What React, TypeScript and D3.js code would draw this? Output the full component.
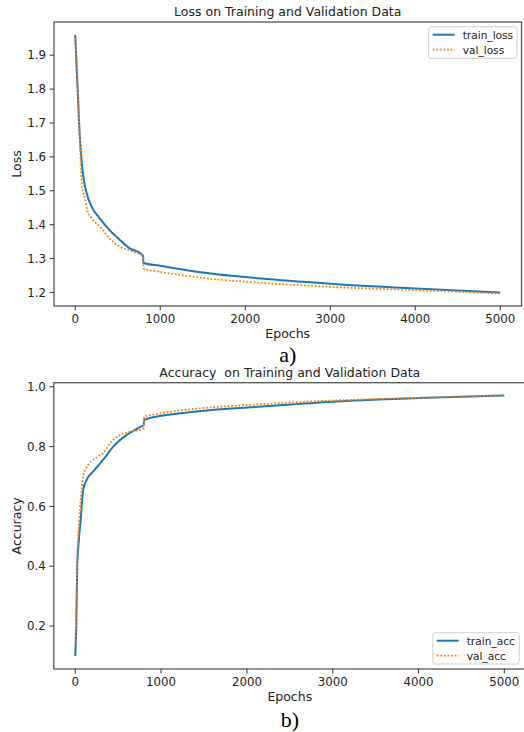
import React from "react";
import * as d3 from "d3";

// ---------- data ----------
const lossTrainEpochs = [0, 10, 20, 30, 45, 64, 95, 134, 192, 290, 407, 525, 642, 779, 798, 802, 994, 1500, 2187, 3000, 4000, 5000];
const lossTrainValues = [1.96, 1.9, 1.84, 1.79, 1.7, 1.621, 1.542, 1.493, 1.453, 1.418, 1.383, 1.355, 1.33, 1.313, 1.308, 1.287, 1.279, 1.259, 1.241, 1.226, 1.212, 1.2];
const lossValEpochs = [0, 14, 32, 47, 61, 78, 100, 118, 140, 192, 290, 407, 525, 662, 792, 798, 802, 1000, 1500, 2187, 3000, 4000, 5000];
const lossValValues = [1.95, 1.9, 1.8, 1.7, 1.6, 1.52, 1.49, 1.473, 1.443, 1.419, 1.394, 1.358, 1.335, 1.322, 1.308, 1.307, 1.271, 1.261, 1.243, 1.2285, 1.2166, 1.2068, 1.197];

const accTrainEpochs = [0, 12, 23, 43, 63, 93, 133, 210, 326, 443, 599, 754, 798, 802, 1000, 1182, 1500, 2176, 3000, 4000, 5000];
const accTrainValues = [0.1, 0.2, 0.4, 0.49, 0.556, 0.656, 0.689, 0.717, 0.756, 0.8, 0.839, 0.865, 0.872, 0.889, 0.903, 0.91, 0.92, 0.934, 0.95, 0.962, 0.971];
const accValEpochs = [0, 12, 23, 45, 63, 93, 152, 268, 326, 404, 521, 638, 754, 798, 802, 1000, 1182, 1500, 2176, 3000, 4000, 5000];
const accValValues = [0.14, 0.25, 0.42, 0.55, 0.622, 0.7, 0.739, 0.767, 0.778, 0.811, 0.839, 0.85, 0.856, 0.861, 0.9, 0.911, 0.919, 0.929, 0.942, 0.954, 0.963, 0.972];

const epochTicks = [0, 1000, 2000, 3000, 4000, 5000];
const lossTicks = [1.2, 1.3, 1.4, 1.5, 1.6, 1.7, 1.8, 1.9];
const accTicks = [0.2, 0.4, 0.6, 0.8, 1.0];

const BLUE = "#1f77b4";
const ORANGE = "#ff7f0e";
const FONT = "DejaVu Sans, sans-serif";

type Series = { epochs: number[]; values: number[] };

function Panel(props: {
  left: number; right: number; top: number; bottom: number;
  yDomain: [number, number];
  yTicks: number[]; yFmt: (v: number) => string;
  title: string; yLabel: string;
  train: Series; val: Series;
  trainName: string; valName: string;
  legend: { x0: number; x1: number; y0: number; y1: number };
  caption: string; captionY: number;
}) {
  const { left, right, top, bottom } = props;
  const x = d3.scaleLinear().domain([-250, 5250]).range([left, right]);
  const y = d3.scaleLinear().domain(props.yDomain).range([bottom, top]);
  const line = d3.line<[number, number]>().x(d => x(d[0])).y(d => y(d[1])).curve(d3.curveMonotoneX);
  const tr = props.train.epochs.map((e, i) => [e, props.train.values[i]] as [number, number]);
  const va = props.val.epochs.map((e, i) => [e, props.val.values[i]] as [number, number]);
  const cx = (left + right) / 2;
  const cy = (top + bottom) / 2;
  const lg = props.legend;
  const clipId = "clip" + Math.round(top);
  return (
    <g>
      <defs>
        <clipPath id={clipId}>
          <rect x={left} y={top} width={right - left} height={bottom - top} />
        </clipPath>
      </defs>
      <text x={cx} y={top - 6} textAnchor="middle" fontSize={12.5} fill="#222" fontFamily={FONT} style={{ whiteSpace: "pre" }}>{props.title}</text>
      <g clipPath={`url(#${clipId})`}>
        <path d={line(tr) || ""} fill="none" stroke={BLUE} strokeWidth={2} />
        <path d={line(va) || ""} fill="none" stroke={ORANGE} strokeWidth={1.8} strokeDasharray="1.8 1.8" />
      </g>
      <rect x={left} y={top} width={right - left} height={bottom - top} fill="none" stroke="#555" strokeWidth={1.3} />
      {epochTicks.map(t => (
        <g key={"x" + t}>
          <line x1={x(t)} x2={x(t)} y1={bottom} y2={bottom + 4.5} stroke="#444" strokeWidth={1.1} />
          <text x={x(t)} y={bottom + 16.5} textAnchor="middle" fontSize={11.8} fill="#222" fontFamily={FONT}>{t}</text>
        </g>
      ))}
      {props.yTicks.map(t => (
        <g key={"y" + t}>
          <line x1={left - 4.5} x2={left} y1={y(t)} y2={y(t)} stroke="#444" strokeWidth={1.1} />
          <text x={left - 8} y={y(t)} dy="0.36em" textAnchor="end" fontSize={11.8} fill="#222" fontFamily={FONT}>{props.yFmt(t)}</text>
        </g>
      ))}
      <text x={cx} y={bottom + 31.5} textAnchor="middle" fontSize={12.5} fill="#222" fontFamily={FONT}>Epochs</text>
      <text transform={`translate(16,${cy}) rotate(-90)`} textAnchor="middle" dy="0.36em" fontSize={12.5} fill="#222" fontFamily={FONT}>{props.yLabel}</text>
      <rect x={lg.x0} y={lg.y0} width={lg.x1 - lg.x0} height={lg.y1 - lg.y0} rx={2.5} fill="#fff" fillOpacity={0.85} stroke="#d0d0d0" strokeWidth={1} />
      <line x1={lg.x0 + 4} x2={lg.x0 + 26} y1={lg.y0 + 8} y2={lg.y0 + 8} stroke={BLUE} strokeWidth={2} />
      <text x={lg.x0 + 34} y={lg.y0 + 8} dy="0.36em" fontSize={10.6} fill="#222" fontFamily={FONT}>{props.trainName}</text>
      <line x1={lg.x0 + 4} x2={lg.x0 + 26} y1={lg.y0 + 23} y2={lg.y0 + 23} stroke={ORANGE} strokeWidth={1.8} strokeDasharray="1.8 1.8" />
      <text x={lg.x0 + 34} y={lg.y0 + 23} dy="0.36em" fontSize={10.6} fill="#222" fontFamily={FONT}>{props.valName}</text>
      <text x={cx} y={props.captionY} textAnchor="middle" fontSize={22} fill="#000" fontFamily="Liberation Serif, serif">{props.caption}</text>
    </g>
  );
}

export default function App() {
  return (
    <svg width={524} height={732} style={{ position: "absolute", left: 0, top: 0, background: "#fff" }}>
      <rect x={0} y={0} width={524} height={732} fill="#fff" />
      <Panel
        left={54} right={521.5} top={22} bottom={306}
        yDomain={[1.16, 1.998]} yTicks={lossTicks} yFmt={v => v.toFixed(1)}
        title="Loss on Training and Validation Data" yLabel="Loss"
        train={{ epochs: lossTrainEpochs, values: lossTrainValues }}
        val={{ epochs: lossValEpochs, values: lossValValues }}
        trainName="train_loss" valName="val_loss"
        legend={{ x0: 428.7, x1: 517, y0: 26.7, y1: 58.3 }}
        caption="a)" captionY={362}
      />
      <Panel
        left={53.8} right={525.8} top={382.7} bottom={669}
        yDomain={[0.0565, 1.0135]} yTicks={accTicks} yFmt={v => v.toFixed(1)}
        title="Accuracy  on Training and Validation Data" yLabel="Accuracy"
        train={{ epochs: accTrainEpochs, values: accTrainValues }}
        val={{ epochs: accValEpochs, values: accValValues }}
        trainName="train_acc" valName="val_acc"
        legend={{ x0: 432.7, x1: 519.3, y0: 632.7, y1: 664 }}
        caption="b)" captionY={727}
      />
    </svg>
  );
}
